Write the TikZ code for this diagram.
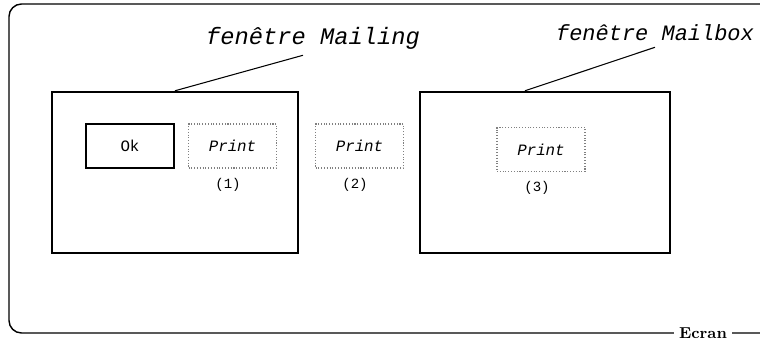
\documentclass[tikz,border=0pt]{standalone}
\usepackage{fontspec}
\setmonofont{Liberation Mono}
\usepackage{tikz}
\usetikzlibrary{positioning,calc}

\tikzset{
  fenetre/.style={draw, line width=1.4pt, minimum width=4.92cm, minimum height=3.22cm, inner sep=0pt},
  bouton/.style={draw, line width=0.8pt, minimum width=1.76cm, minimum height=0.88cm, font=\ttfamily\small},
  boutonvide/.style={draw=gray, densely dotted, line width=0.6pt, minimum width=1.76cm, minimum height=0.88cm, font=\ttfamily\itshape\small},
  titre/.style={font=\ttfamily\itshape\fontsize{13.5}{15}\selectfont},
  numero/.style={font=\ttfamily\footnotesize},
  rappel/.style={line width=0.6pt}
}

\begin{document}
\begin{tikzpicture}
  \useasboundingbox (0,0) rectangle (15.2,-6.8);
  % ecran
  \draw[rounded corners=2.5mm, line width=0.8pt] (15.3,-0.08) -| (0.18,-6.66) -- (15.3,-6.66);
  \node[fill=white, font=\bfseries\small, inner xsep=3pt] (ecran) at (14.06,-6.66) {Ecran};
  % fenetres
  \node[fenetre] (mailing) at (3.5,-3.45) {};
  \node[fenetre, minimum width=5cm] (mailbox) at (10.9,-3.45) {};
  \node[titre] (lblMailing) at (6.26,-0.76) {fenêtre Mailing};
  \node[titre, font=\ttfamily\itshape\fontsize{12.5}{14}\selectfont] (lblMailbox) at (13.1,-0.66) {fenêtre Mailbox};
  \draw[rappel] (mailing.north) -- ([xshift=-0.2cm]lblMailing.south);
  \draw[rappel] ([xshift=-0.4cm]mailbox.north) -- (lblMailbox.south);
  % boutons
  \node[bouton] (ok) at (2.6,-2.92) {Ok};
  \node[boutonvide] (print1) at (4.65,-2.92) {Print};
  \node[boutonvide] (print2) at (7.19,-2.92) {Print};
  \node[boutonvide] (print3) at (10.82,-2.99) {Print};
  \node[numero] (n1) at (4.56,-3.7) {(1)};
  \node[numero] (n2) at (7.1,-3.7) {(2)};
  \node[numero] (n3) at (10.74,-3.76) {(3)};
\end{tikzpicture}
\end{document}
